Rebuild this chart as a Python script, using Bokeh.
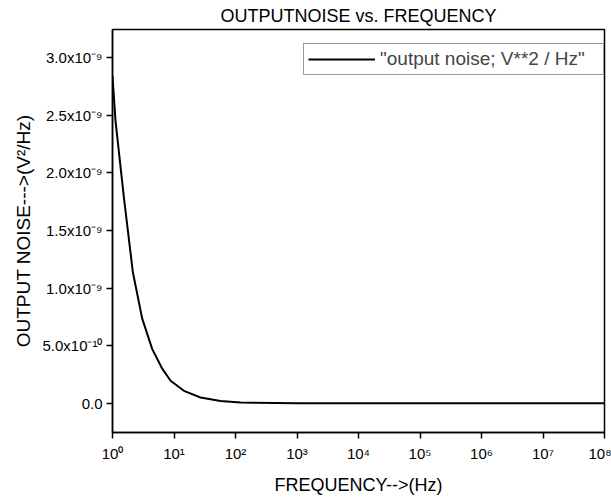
from bokeh.plotting import figure
from bokeh.models import FixedTicker, Range1d, Legend, LegendItem
from bokeh.embed import file_html
from bokeh.resources import INLINE

# data
freq = [1.0, 1.12, 1.53, 2.14, 3.04, 4.43, 6.44, 8.8, 14.5, 27.0, 57.0, 121.0,
        1e3, 1e4, 1e5, 1e6, 1e7, 1e8]
noise = [2.84e-9, 2.45e-9, 1.79e-9, 1.14e-9, 0.735e-9, 0.47e-9, 0.30e-9, 0.195e-9,
         0.108e-9, 0.05e-9, 0.02e-9, 0.006e-9, 0.0005e-9, 0.0, 0.0, 0.0, 0.0, 0.0]

y_ticks = [0.0, 0.5e-9, 1.0e-9, 1.5e-9, 2.0e-9, 2.5e-9, 3.0e-9]
y_labels = ["0.0", "5.0x10\u207b\u00b9\u2070", "1.0x10\u207b\u2079", "1.5x10\u207b\u2079",
            "2.0x10\u207b\u2079", "2.5x10\u207b\u2079", "3.0x10\u207b\u2079"]
x_ticks = [1, 10, 100, 1e3, 1e4, 1e5, 1e6, 1e7, 1e8]
x_labels = ["10\u2070", "10\u00b9", "10\u00b2", "10\u00b3", "10\u2074",
            "10\u2075", "10\u2076", "10\u2077", "10\u2078"]

title = "OUTPUTNOISE vs. FREQUENCY"
x_title = "FREQUENCY-->(Hz)"
y_title = "OUTPUT NOISE--->(V\u00b2/Hz)"
series_name = "\"output noise; V**2 / Hz\""

FONT = "Liberation Sans"

p = figure(width=611, height=497, x_axis_type="log", output_backend="svg",
           toolbar_location=None, title=title,
           x_range=Range1d(1, 1e8), y_range=Range1d(-0.254e-9, 3.245e-9),
           min_border_left=112, min_border_right=7, min_border_top=0, min_border_bottom=64)

p.title.align = "center"
p.title.text_font = FONT
p.title.text_font_size = "18px"
p.title.text_font_style = "normal"
p.title.text_color = "black"
p.title.offset = 0
p.title.standoff = 7

r = p.line(freq, noise, line_color="black", line_width=2)

p.xgrid.visible = False
p.ygrid.visible = False
p.outline_line_color = "black"
p.outline_line_width = 1.5

for ax in (p.xaxis[0], p.yaxis[0]):
    ax.axis_line_width = 1.5
    ax.major_tick_line_width = 1.5
    ax.major_tick_in = 0
    ax.major_tick_out = 6
    ax.minor_tick_line_color = None
    ax.major_label_text_font = FONT
    ax.major_label_text_font_size = "15px"
    ax.major_label_text_color = "black"
    ax.axis_label_text_font = FONT
    ax.axis_label_text_font_style = "normal"
    ax.axis_label_text_color = "black"

p.xaxis[0].ticker = FixedTicker(ticks=x_ticks)
p.xaxis[0].major_label_overrides = {t: l for t, l in zip(x_ticks, x_labels)}
p.xaxis[0].axis_label = x_title
p.xaxis[0].axis_label_text_font_size = "18px"
p.xaxis[0].axis_label_standoff = 10
p.xaxis[0].major_label_standoff = 6

p.yaxis[0].ticker = FixedTicker(ticks=y_ticks)
p.yaxis[0].major_label_overrides = {t: l for t, l in zip(y_ticks, y_labels)}
p.yaxis[0].axis_label = y_title
p.yaxis[0].axis_label_text_font_size = "19px"
p.yaxis[0].axis_label_standoff = 5
p.yaxis[0].major_label_standoff = 4

legend = Legend(items=[LegendItem(label=series_name, renderers=[r])],
                location=(191, 357), label_text_font=FONT,
                label_text_font_size="19px", border_line_color="#333333",
                border_line_width=1, glyph_width=67, glyph_height=20,
                label_height=20, label_width=219, margin=0, padding=4,
                spacing=0, label_standoff=5, background_fill_alpha=1)
p.add_layout(legend)

open("out.html", "w").write(file_html(p, INLINE))
